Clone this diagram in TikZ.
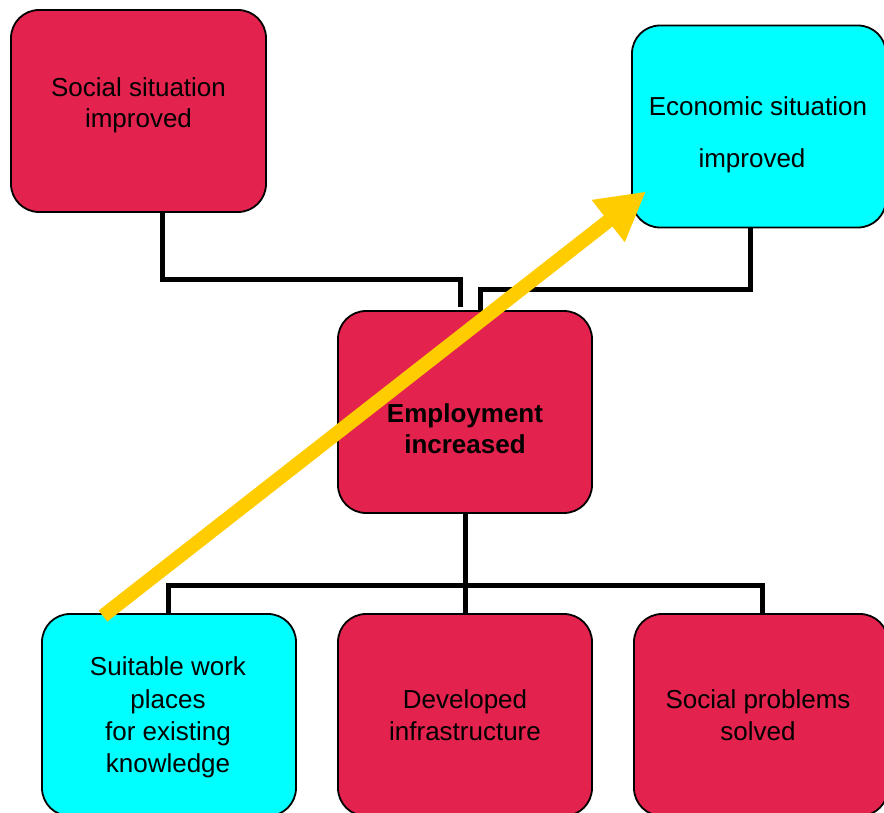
\documentclass[tikz,border=0pt]{standalone}
\usepackage{fontspec}
\setmainfont{Liberation Sans}
\usetikzlibrary{arrows.meta,calc}
\definecolor{crim}{HTML}{E4224E}
\definecolor{cyanb}{HTML}{00FFFF}
\definecolor{arrowyellow}{HTML}{FFCC00}
\tikzset{
  box/.style={draw=black, line width=1.8pt, rounded corners=28pt, minimum width=254pt, minimum height=202pt, inner sep=0pt, outer sep=0pt},
  redbox/.style={box, fill=crim},
  cyanbox/.style={box, fill=cyanb},
  txt/.style={align=center, font=\fontsize{26}{31.5}\selectfont, inner sep=0pt},
  conn/.style={draw=black, line width=5pt, line join=miter},
  bigarrow/.style={draw=arrowyellow, line width=14pt, -{Triangle[length=48pt,width=50pt]}}
}
\begin{document}
\begin{tikzpicture}[x=1pt,y=-1pt]
\clip (0,0) rectangle (884,813);
\fill[white] (0,0) rectangle (884,813);
% boxes
\node[redbox, minimum width=255pt] (soc) at (138.5,111) {};
\node[cyanbox] (eco) at (759,126.5) {};
\node[redbox] (emp) at (465,412) {};
\node[cyanbox] (suit) at (169,715) {};
\node[redbox] (dev) at (465,715) {};
\node[redbox] (sprob) at (761,715) {};
% texts
\node[txt] (soct) at ([yshift=5.5pt]soc.center) {Social situation\\improved};
\node[txt] (ecot) at ([xshift=-1pt,yshift=-8.5pt]eco.center) {Economic situation\\[20.5pt]improved\hspace*{12pt}};
\node[txt, font=\fontsize{26}{31.5}\selectfont\bfseries] (empt) at ([yshift=-16.5pt]emp.center) {Employment\\increased};
\node[txt, font=\fontsize{26}{32.4}\selectfont] (suitt) at ([xshift=-1pt,yshift=-2.5pt]suit.center) {Suitable work\\places\\for existing\\knowledge};
\node[txt] (devt) at (dev.center) {Developed\\infrastructure};
\node[txt] (sprobt) at ([xshift=-3pt]sprob.center) {Social problems\\solved};
% connectors
\draw[conn] ([xshift=23.5pt]soc.south) -- ++(0,68) -| ([xshift=-5pt,yshift=4pt]emp.north);
\draw[conn] ([xshift=-9pt]eco.south) -- ++(0,62) -| ([xshift=15pt]emp.north);
\coordinate (bus) at (465,585);
\draw[conn] (emp.south) -- (dev.north);
\draw[conn] ([xshift=-1pt]suit.north) |- (bus) -| ([xshift=1pt]sprob.north);
% yellow arrow
\draw[bigarrow] ([xshift=-66pt,yshift=-2pt]suit.north) -- ([xshift=14pt,yshift=36pt]eco.south west);
\end{tikzpicture}
\end{document}
